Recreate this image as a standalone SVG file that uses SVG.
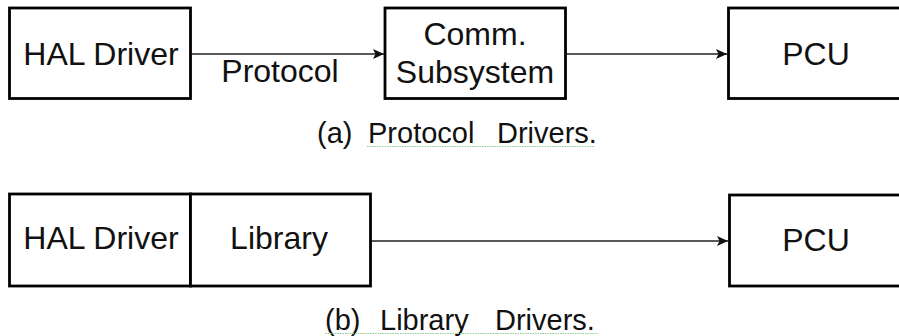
<svg xmlns="http://www.w3.org/2000/svg" width="899" height="336" viewBox="0 0 899 336">
<style>
.box{fill:#fff;stroke:#000;stroke-width:2.8}
.t{font-family:"Liberation Sans",Arial,sans-serif;font-size:32px;fill:#111}
.c{font-family:"Liberation Sans",Arial,sans-serif;font-size:29px;fill:#111}
.ln{stroke:#222;stroke-width:1.6;fill:none}
.sq{stroke:#8fce8f;stroke-width:1.2;fill:none;stroke-dasharray:1.5 1}
</style>
<defs>
<marker id="ah" markerWidth="12" markerHeight="12" refX="11" refY="6" orient="auto" markerUnits="userSpaceOnUse">
<path d="M0,1 L11,6 L0,11 L2.5,6 Z" fill="#111"/>
</marker>
</defs>
<rect width="899" height="336" fill="#fff"/>
<g id="connectors">
<line class="ln" x1="191" y1="54" x2="384" y2="54" marker-end="url(#ah)"/>
<line class="ln" x1="566" y1="54" x2="727" y2="54" marker-end="url(#ah)"/>
<line class="ln" x1="371" y1="241" x2="728" y2="241" marker-end="url(#ah)"/>
</g>
<g id="hal-a"><rect class="box" x="9.5" y="8" width="181" height="90.5"/><text class="t" x="101" y="65" text-anchor="middle">HAL Driver</text></g>
<g id="protocol-label"><text class="t" x="280" y="82" text-anchor="middle">Protocol</text></g>
<g id="comm"><rect class="box" x="385" y="8" width="180.5" height="90.5"/><text class="t" x="475" y="45" text-anchor="middle">Comm.</text><text class="t" x="475" y="83" text-anchor="middle">Subsystem</text></g>
<g id="pcu-a"><rect class="box" x="728.5" y="8" width="180" height="90.5"/><text class="t" x="816" y="65" text-anchor="middle">PCU</text></g>
<g id="caption-a"><text class="c" x="317" y="143">(a)</text><text class="c" x="368" y="143">Protocol</text><text class="c" x="497" y="143">Drivers.</text><line class="sq" x1="367" y1="146.5" x2="595" y2="146.5"/></g>
<g id="hal-b"><rect class="box" x="9.5" y="194" width="181" height="92"/><text class="t" x="101" y="249" text-anchor="middle">HAL Driver</text></g>
<g id="library"><rect class="box" x="190.5" y="194" width="180" height="92"/><text class="t" x="279" y="249" text-anchor="middle">Library</text></g>
<g id="pcu-b"><rect class="box" x="729.5" y="195" width="180" height="91"/><text class="t" x="816" y="251" text-anchor="middle">PCU</text></g>
<g id="caption-b"><text class="c" x="325" y="330">(b)</text><text class="c" x="380" y="330">Library</text><text class="c" x="495" y="330">Drivers.</text><line class="sq" x1="325" y1="333.5" x2="598" y2="333.5"/></g>
</svg>
